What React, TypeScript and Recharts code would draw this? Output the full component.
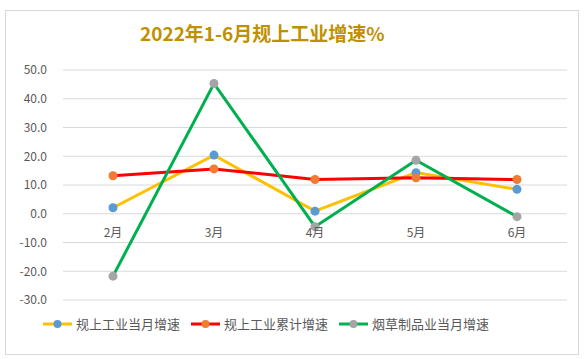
import React from "react";
import { LineChart, Line, XAxis, YAxis, CartesianGrid } from "recharts";

const months = ["2月", "3月", "4月", "5月", "6月"];
const monthlyGrowth = [2.1, 20.4, 0.9, 14.3, 8.5];
const cumulativeGrowth = [13.2, 15.6, 11.9, 12.5, 11.9];
const tobaccoGrowth = [-21.7, 45.3, -4.5, 18.6, -1.0];
const yTicks = [-30, -20, -10, 0, 10, 20, 30, 40, 50];

const SERIES = [
  { key: "monthly", name: "规上工业当月增速", line: "#FFC000", dot: "#5B9BD5" },
  { key: "cumulative", name: "规上工业累计增速", line: "#FF0000", dot: "#ED7D31" },
  { key: "tobacco", name: "烟草制品业当月增速", line: "#00B050", dot: "#A5A5A5" },
];

const data = months.map((m, i) => ({
  month: m,
  monthly: monthlyGrowth[i],
  cumulative: cumulativeGrowth[i],
  tobacco: tobaccoGrowth[i],
}));

const W = 587;
const H = 359;
const TOP = 70;
const BOTTOM = 59;
const Y_MIN = -30;
const Y_MAX = 50;
const PLOT_H = H - TOP - BOTTOM;
const ZERO_Y = TOP + (PLOT_H * Y_MAX) / (Y_MAX - Y_MIN);
const FONT = '"Noto Sans CJK SC", "Noto Sans", sans-serif';

// month labels sit just under the zero line, like the Excel original
const MonthTick = ({ x, payload }: { x: number; payload: { value: string } }) => (
  <text x={x} y={ZERO_Y + 23} textAnchor="middle" fill="#595959" fontSize={12} fontFamily={FONT}>
    {payload.value}
  </text>
);

const LegendBox = () => (
  <div
    style={{
      position: "absolute",
      left: 0,
      top: 314,
      width: 532,
      display: "flex",
      justifyContent: "center",
      gap: 11,
      fontFamily: FONT,
      fontSize: 13,
      color: "#595959",
    }}
  >
    {SERIES.map((s) => (
      <div key={s.key} style={{ display: "flex", alignItems: "center" }}>
        <svg width={29} height={10} style={{ marginRight: 4 }}>
          <line x1={0} y1={5} x2={29} y2={5} stroke={s.line} strokeWidth={3} />
          <circle cx={14.5} cy={5} r={4} fill={s.dot} />
        </svg>
        <span>{s.name}</span>
      </div>
    ))}
  </div>
);

export default function App() {
  return (
    <div style={{ position: "absolute", left: 0, top: 0, width: W, height: H, background: "#fff" }}>
      <div style={{ position: "absolute", left: 5, top: 10, width: 572, height: 343, border: "1px solid #d9d9d9" }} />
      <div
        style={{
          position: "absolute",
          left: 140,
          top: 19,
          whiteSpace: "nowrap",
          fontFamily: FONT,
          fontWeight: 700,
          fontSize: 19,
          color: "#BF9000",
        }}
      >
        2022年1-6月规上工业增速%
      </div>
      <div style={{ position: "absolute", left: 0, top: 0 }}>
        <LineChart width={W} height={H} data={data} margin={{ top: TOP, right: 20, left: 0, bottom: BOTTOM - 20 }}>
          <CartesianGrid vertical={false} stroke="#d9d9d9" strokeWidth={1} />
          <XAxis
            dataKey="month"
            axisLine={false}
            tickLine={false}
            height={20}
            tick={MonthTick}
            interval={0}
            padding={{ left: 50, right: 50 }}
          />
          <YAxis
            domain={[Y_MIN, Y_MAX]}
            ticks={yTicks}
            width={63}
            axisLine={false}
            tickLine={false}
            tickSize={6}
            tickMargin={10}
            tickFormatter={(v: number) => v.toFixed(1)}
            tick={{ fill: "#595959", fontSize: 12, fontFamily: FONT }}
          />
          {SERIES.map((s) => (
            <Line
              key={s.key}
              dataKey={s.key}
              name={s.name}
              stroke={s.line}
              strokeWidth={3}
              dot={{ r: 4.5, fill: s.dot, stroke: s.dot, strokeWidth: 0 }}
              activeDot={false}
              isAnimationActive={false}
            />
          ))}
        </LineChart>
      </div>
      <LegendBox />
    </div>
  );
}
